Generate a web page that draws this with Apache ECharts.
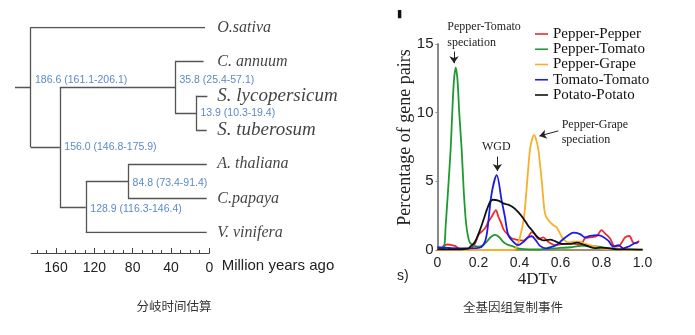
<!DOCTYPE html>
<html><head><meta charset="utf-8">
<script src="https://cdn.jsdelivr.net/npm/echarts@6/dist/echarts.min.js"></script>
<style>html,body{margin:0;padding:0;background:#fff}#c{width:695px;height:335px}</style>
</head><body><div id="c"></div>
<script>
// ---------- Left panel: divergence time tree ----------
const leafNames = ['O.sativa', 'C. annuum', 'S. lycopersicum', 'S. tuberosum', 'A. thaliana', 'C.papaya', 'V. vinifera'];
const leafTipAges = [4.5, 6, 2, 2.7, 2.7, 2.7, 2.7];
const nodeAges = [186.6, 35.8, 13.9, 156.0, 84.8, 128.9];
const nodeLabels = ['186.6 (161.1-206.1)', '35.8 (25.4-57.1)', '13.9 (10.3-19.4)', '156.0 (146.8-175.9)', '84.8 (73.4-91.4)', '128.9 (116.3-146.4)'];
const nodeChildren = [['L0', 'N3'], ['L1', 'N2'], ['L2', 'L3'], ['N1', 'N5'], ['L4', 'L5'], ['N4', 'L6']];
const rootAge = 202.8;
const timeTicks = [0, 40, 80, 120, 160];
const timeMax = 186;

// ---------- Right panel: 4DTv distributions ----------
const dtvTicks = [0, 0.2, 0.4, 0.6, 0.8, 1.0];
const pctTicks = [0, 5, 10, 15];
const pepperPepperX = [0, 0.02, 0.03, 0.05, 0.07, 0.085, 0.11, 0.14, 0.16, 0.183, 0.2, 0.215, 0.232, 0.248, 0.264, 0.285, 0.297, 0.308, 0.324, 0.345, 0.362, 0.39, 0.419, 0.443, 0.46, 0.475, 0.492, 0.516, 0.54, 0.573, 0.614, 0.655, 0.695, 0.72, 0.744, 0.777, 0.8, 0.817, 0.841, 0.866, 0.89, 0.915, 0.936, 0.955, 0.972, 0.983];
const pepperPepperY = [0.15, 0.12, 0.3, 0.4, 0.35, 0.3, 0.08, 0.1, 0.12, 0.48, 1.1, 1.33, 1.58, 2.06, 2.42, 2.9, 2.42, 2.06, 1.45, 1.1, 0.85, 0.73, 0.68, 0.97, 1.3, 1.15, 0.8, 0.92, 0.6, 0.36, 0.44, 0.49, 0.36, 0.85, 0.92, 1.02, 1.45, 1.21, 0.85, 0.24, 0.36, 0.92, 1.02, 0.53, 0.49, 0.68];
const pepperTomatoX = [0, 0.02, 0.032, 0.04, 0.05, 0.064, 0.072, 0.08, 0.089, 0.098, 0.106, 0.118, 0.128, 0.139, 0.15, 0.16, 0.18, 0.2, 0.22, 0.24, 0.26, 0.28, 0.3, 0.32, 0.34, 0.37, 0.4, 0.45, 0.5, 0.55, 0.6, 0.65, 0.7, 0.75, 0.8, 0.85, 0.9, 1.0];
const pepperTomatoY = [0.05, 0.05, 0.1, 1.8, 4.0, 7.3, 10.0, 12.3, 13.3, 12.3, 10.0, 7.3, 4.3, 2.0, 0.9, 0.5, 0.3, 0.25, 0.35, 0.6, 0.95, 1.1, 0.95, 0.6, 0.4, 0.25, 0.1, 0.05, 0.05, 0.1, 0.15, 0.2, 0.3, 0.3, 0.2, 0.1, 0.05, 0.02];
const pepperGrapeX = [0, 0.2, 0.36, 0.378, 0.4, 0.422, 0.438, 0.451, 0.462, 0.471, 0.48, 0.492, 0.508, 0.524, 0.54, 0.565, 0.581, 0.606, 0.622, 0.64, 0.66, 0.695, 0.72, 0.744, 0.77, 0.8, 0.85, 0.9, 1.0];
const pepperGrapeY = [0, 0, 0, 0.05, 0.8, 2.4, 5.1, 7.3, 8.1, 8.36, 8.1, 7.3, 5.1, 2.67, 2.18, 1.8, 1.65, 0.97, 0.68, 0.55, 0.6, 0.6, 0.45, 0.36, 0.25, 0.1, 0.05, 0, 0];
const tomatoTomatoX = [0, 0.05, 0.1, 0.15, 0.2, 0.224, 0.24, 0.264, 0.289, 0.313, 0.329, 0.345, 0.37, 0.394, 0.42, 0.44, 0.46, 0.48, 0.5, 0.53, 0.56, 0.58, 0.61, 0.64, 0.663, 0.695, 0.72, 0.744, 0.777, 0.8, 0.833, 0.858, 0.882, 0.906, 0.93, 0.955, 0.98];
const tomatoTomatoY = [0.2, 0.15, 0.12, 0.12, 0.15, 0.36, 1.1, 4.1, 5.45, 3.6, 2.4, 1.1, 0.6, 0.36, 0.6, 0.9, 1.0, 0.7, 0.3, 0.12, 0.25, 0.36, 0.75, 1.1, 1.26, 1.16, 0.92, 1.02, 1.09, 1.02, 0.68, 0.24, 0.36, 0.12, 0.24, 0.44, 0.6];
const potatoPotatoX = [0, 0.05, 0.1, 0.15, 0.16, 0.183, 0.207, 0.224, 0.24, 0.256, 0.269, 0.297, 0.321, 0.345, 0.37, 0.394, 0.419, 0.443, 0.467, 0.484, 0.516, 0.549, 0.573, 0.606, 0.646, 0.679, 0.711, 0.736, 0.768, 0.8, 0.841, 0.88, 0.94, 1.0];
const potatoPotatoY = [0.05, 0.05, 0.05, 0.1, 0.24, 0.6, 1.45, 2.18, 2.9, 3.5, 3.66, 3.6, 3.4, 3.3, 3.1, 2.76, 2.3, 1.75, 1.33, 1.0, 0.7, 0.75, 0.65, 0.45, 0.44, 0.53, 0.4, 0.26, 0.14, 0.18, 0.12, 0.05, 0.05, 0.02];
const seriesNames = ['Pepper-Pepper', 'Pepper-Tomato', 'Pepper-Grape', 'Tomato-Tomato', 'Potato-Potato'];
// arrows in data coordinates: [x1, y1, x2, y2]
const arrowPepperTomato = [0.0805, 14.45, 0.0805, 13.6];
const arrowWGD = [0.292, 6.8, 0.292, 5.75];
const arrowPepperGrape = [0.589, 8.67, 0.497, 8.3];

// ---------- build tree geometry from the data ----------
const nodeY = {};
const nodeX = {};
leafNames.forEach((n, i) => { nodeY['L' + i] = i; nodeX['L' + i] = leafTipAges[i]; });
function resolve(id) {
  if (nodeY[id] !== undefined) return nodeY[id];
  const k = +id.slice(1);
  const ys = nodeChildren[k].map(resolve);
  nodeY[id] = (ys[0] + ys[1]) / 2;
  nodeX[id] = nodeAges[k];
  return nodeY[id];
}
nodeAges.forEach((a, k) => resolve('N' + k));
const treeSegs = [];
nodeAges.forEach((a, k) => {
  const ch = nodeChildren[k];
  treeSegs.push({ coords: [[a, nodeY[ch[0]]], [a, nodeY[ch[1]]]] });
  ch.forEach(c => treeSegs.push({ coords: [[a, nodeY[c]], [nodeX[c], nodeY[c]]] }));
});
treeSegs.push({ coords: [[rootAge, nodeY['N0']], [nodeAges[0], nodeY['N0']]] });

const nodeLabelOffsets = [[0, -7.5], [0, -7.5], [0, 0], [0, 0], [0, 1.5], [0, 2]];
const speciesSizes = [16, 16, 19, 19, 16, 16, 16];

const zip = (xs, ys) => xs.map((x, i) => [x, ys[i]]);
const colors = ['#ee2a2a', '#1f9a30', '#f7b02a', '#1c1ce6', '#111111'];
const curveData = [
  zip(pepperPepperX, pepperPepperY), zip(pepperTomatoX, pepperTomatoY), zip(pepperGrapeX, pepperGrapeY),
  zip(tomatoTomatoX, tomatoTomatoY), zip(potatoPotatoX, potatoPotatoY)
];
const arrowLine = a => [{ coord: [a[0], a[1]] }, { coord: [a[2], a[3]] }];

const SERIF = '"Liberation Serif", "Times New Roman", serif';
const SANS = '"Liberation Sans", Arial, sans-serif';
const CJK = '"Noto Sans CJK SC", sans-serif';

const chart = echarts.init(document.getElementById('c'), null, { renderer: 'canvas' });
chart.setOption({
  animation: false,
  backgroundColor: '#fff',
  grid: [
    { left: 15, width: 194.3, top: 27.3, height: 205.4 },
    { left: 31.1, width: 178.2, top: 250, height: 3 },
    { left: 31.1, width: 178.2, top: 248, height: 5 },
    { left: 437.5, width: 205, top: 44, height: 206 }
  ],
  xAxis: [
    { gridIndex: 0, type: 'value', inverse: true, min: 0, max: rootAge, show: false },
    { gridIndex: 1, type: 'value', inverse: true, min: 0, max: timeMax, interval: 10,
      axisLine: { show: true, lineStyle: { color: '#444', width: 1 } }, axisTick: { show: false }, axisLabel: { show: false },
      splitLine: { show: true, showMaxLine: false, lineStyle: { color: '#444', width: 1 } } },
    { gridIndex: 2, type: 'value', inverse: true, min: 0, max: timeMax, interval: 40,
      axisLine: { show: false }, axisTick: { show: false },
      axisLabel: { show: true, margin: 8.5, fontSize: 14, color: '#222', fontFamily: SANS, showMaxLabel: false,
        formatter: v => timeTicks.includes(v) ? String(v) : '' },
      splitLine: { show: true, showMaxLine: false, lineStyle: { color: '#444', width: 1 } } },
    { gridIndex: 3, type: 'value', min: dtvTicks[0], max: dtvTicks[dtvTicks.length - 1], interval: 0.2,
      axisLine: { show: true, lineStyle: { color: '#7d6a45', width: 1.5 } }, axisTick: { show: false },
      splitLine: { show: false },
      axisLabel: { margin: 6, fontSize: 14, color: '#222', fontFamily: SANS, formatter: v => (v === 0 ? '0' : v.toFixed(1)) } }
  ],
  yAxis: [
    { gridIndex: 0, type: 'value', inverse: true, min: 0, max: leafNames.length - 1, show: false },
    { gridIndex: 1, type: 'value', show: false },
    { gridIndex: 2, type: 'value', show: false },
    { gridIndex: 3, type: 'value', min: pctTicks[0], max: pctTicks[pctTicks.length - 1], interval: 5,
      axisLine: { show: true, lineStyle: { color: '#8a8a8a', width: 2 } },
      axisTick: { show: true, length: 2, lineStyle: { color: '#8a8a8a' } },
      splitLine: { show: false },
      axisLabel: { margin: 4, fontSize: 15, color: '#222', fontFamily: SANS } }
  ],
  legend: {
    data: seriesNames, orient: 'vertical', left: 535, top: 26.5, padding: 0,
    icon: 'rect', itemWidth: 13, itemHeight: 1.6, itemGap: 0.25,
    textStyle: { fontFamily: SERIF, fontSize: 15, color: '#111', lineHeight: 15 }
  },
  series: [
    { type: 'lines', coordinateSystem: 'cartesian2d', xAxisIndex: 0, yAxisIndex: 0, silent: true,
      data: treeSegs, lineStyle: { color: '#555', width: 1.3, opacity: 1 } },
    { type: 'scatter', xAxisIndex: 0, yAxisIndex: 0, symbolSize: 0, silent: true,
      data: leafNames.map((n, i) => ({ value: [0, i], name: n,
        label: { fontSize: speciesSizes[i] } })),
      label: { show: true, position: 'right', distance: 8, formatter: p => p.name,
        fontFamily: SERIF, fontStyle: 'italic', color: '#111' } },
    { type: 'scatter', xAxisIndex: 0, yAxisIndex: 0, symbolSize: 0, silent: true,
      data: nodeAges.map((a, k) => ({ value: [a, nodeY['N' + k]], name: nodeLabels[k],
        label: { offset: nodeLabelOffsets[k] } })),
      label: { show: true, position: 'right', distance: 4.5, formatter: p => p.name,
        fontFamily: SANS, fontSize: 10.5, color: '#2f6db4' } },
    ...seriesNames.map((name, i) => ({
      name, type: 'line', xAxisIndex: 3, yAxisIndex: 3, data: curveData[i],
      symbol: 'none', smooth: 0.3, color: colors[i],
      lineStyle: { color: colors[i], width: 1.8 },
      markLine: i === 4 ? {
        silent: true, symbol: ['none', 'arrow'], symbolSize: 7, label: { show: false },
        itemStyle: { color: '#222' },
        lineStyle: { color: '#222', width: 1, type: 'solid' },
        data: [arrowLine(arrowPepperTomato), arrowLine(arrowWGD), arrowLine(arrowPepperGrape)]
      } : undefined
    }))
  ],
  graphic: [
    { type: 'text', left: 221.7, top: 258, style: { text: 'Million years ago', font: '15px ' + SANS, fill: '#222' } },
    { type: 'text', left: 447.3, top: 18.5, style: { text: 'Pepper-Tomato\nspeciation', font: '12px ' + SERIF, fill: '#222', lineHeight: 16.5 } },
    { type: 'text', left: 561.7, top: 117.5, style: { text: 'Pepper-Grape\nspeciation', font: '12px ' + SERIF, fill: '#222', lineHeight: 15 } },
    { type: 'text', left: 482, top: 141, style: { text: 'WGD', font: '12px ' + SERIF, fill: '#222' } },
    { type: 'text', x: 405, y: 137.5, rotation: Math.PI / 2,
      style: { text: 'Percentage of gene pairs', font: '18px ' + SERIF, fill: '#222', align: 'center', verticalAlign: 'middle' } },
    { type: 'text', x: 537.5, y: 280, style: { text: '4DTv', font: '17px ' + SERIF, fill: '#222', align: 'center', verticalAlign: 'middle' } },
    { type: 'text', x: 397, y: 276, style: { text: 's)', font: '14px ' + SANS, fill: '#222', verticalAlign: 'middle' } },
    { type: 'text', x: 395, y: 24, style: { text: '\'', font: 'bold 30px "DejaVu Sans", sans-serif', fill: '#111', verticalAlign: 'middle' } },
    { type: 'text', x: 174, y: 306, style: { text: '分岐时间估算', font: '12.5px ' + CJK, fill: '#333', align: 'center', verticalAlign: 'middle' } },
    { type: 'text', x: 513, y: 307, style: { text: '全基因组复制事件', font: '12.5px ' + CJK, fill: '#333', align: 'center', verticalAlign: 'middle' } }
  ]
});
</script></body></html>
